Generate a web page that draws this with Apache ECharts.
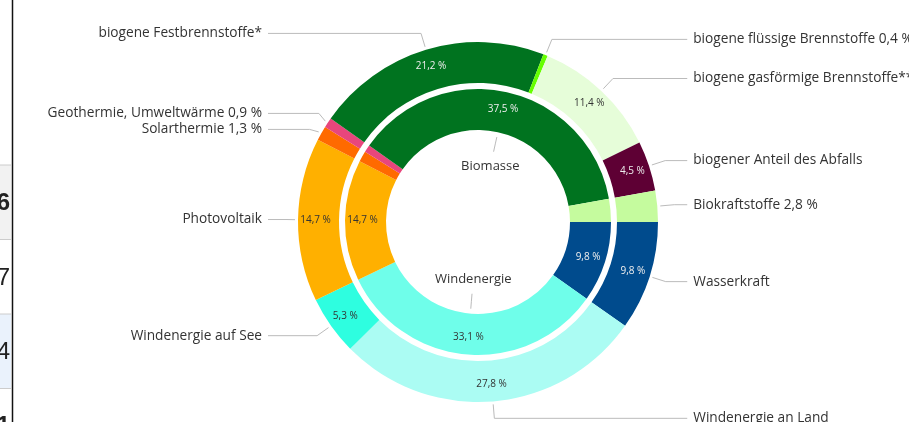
<!DOCTYPE html>
<html>
<head>
<meta charset="utf-8">
<script src="https://cdn.jsdelivr.net/npm/echarts@6/dist/echarts.min.js"></script>
<style>
  html, body { margin: 0; padding: 0; background: #fff; }
  #chart { width: 909px; height: 422px; }
</style>
</head>
<body>
<div id="chart"></div>
<script>
// aussen: einzelne Energieträger, Anteil in %
var outerNames = ['Wasserkraft', 'Windenergie an Land', 'Windenergie auf See', 'Photovoltaik', 'Solarthermie',
    'Geothermie, Umweltwärme', 'biogene Festbrennstoffe*', 'biogene flüssige Brennstoffe',
    'biogene gasförmige Brennstoffe**', 'biogener Anteil des Abfalls', 'Biokraftstoffe'];
var outerValues = [9.8, 27.8, 5.3, 14.7, 1.3, 0.9, 21.2, 0.4, 11.4, 4.5, 2.8];
var outerColors = ['#004b8d', '#abfcf3', '#2efee0', '#ffb000', '#ff6a00', '#e8467c',
    '#00731f', '#66ff00', '#e6fdd9', '#5e0034', '#c5fb9e'];

// innen: zusammengefasst
var innerNames = ['Wasserkraft', 'Windenergie', 'Photovoltaik', 'Solarthermie', 'Geothermie', 'Biomasse', 'Biokraftstoffe'];
var innerValues = [9.8, 33.1, 14.7, 1.3, 0.9, 37.5, 2.8];
var innerColors = ['#004b8d', '#6ffeea', '#ffb000', '#ff6a00', '#e8467c', '#00731f', '#c5fb9e'];
var centerLabels = ['Biomasse', 'Windenergie'];

var smallShare = 3; // kleine Anteile: Prozent steht aussen am Namen
var font = '"Open Sans", sans-serif';
var center = [478, 222];
// Bereich der Kreise geht über den Rand hinaus, damit Beschriftungen abgeschnitten statt verschoben werden
var pieBox = { left: 0, top: 0, right: -160, bottom: -40 };
var lineStart = 183, lineLen = 14, lineLen2 = 13, textGap = 6;

function fmt(v) {
    return v.toFixed(1).replace('.', ',') + ' %';
}

function isDark(hex) {
    var r = parseInt(hex.substr(1, 2), 16), g = parseInt(hex.substr(3, 2), 16), b = parseInt(hex.substr(5, 2), 16);
    return 0.299 * r + 0.587 * g + 0.114 * b < 110;
}

function midAngle(values, idx) {
    var total = 0, before = 0;
    for (var i = 0; i < values.length; i++) {
        total += values[i];
        if (i < idx) before += values[i];
    }
    return (before + values[idx] / 2) / total * Math.PI * 2;
}

function polar(r, a) {
    return [center[0] + r * Math.cos(a), center[1] + r * Math.sin(a)];
}

// Enden der Führungslinien links und rechts auf eine Linie bringen
var leftEnd = Infinity, rightEnd = -Infinity;
outerValues.forEach(function (v, i) {
    var c = Math.cos(midAngle(outerValues, i));
    var x = center[0] + (lineStart + lineLen) * c + (c < 0 ? -lineLen2 : lineLen2);
    if (c < 0) leftEnd = Math.min(leftEnd, x);
    else rightEnd = Math.max(rightEnd, x);
});

function ringData(names, values, colors) {
    return names.map(function (n, i) {
        return {
            name: n,
            value: values[i],
            itemStyle: { color: colors[i] },
            label: {
                show: values[i] >= smallShare,
                color: isDark(colors[i]) ? '#eeeeee' : '#333333'
            }
        };
    });
}

function pieSeries(extra) {
    var s = {
        type: 'pie',
        left: pieBox.left, top: pieBox.top, right: pieBox.right, bottom: pieBox.bottom,
        center: center,
        startAngle: 0,
        clockwise: true,
        silent: true
    };
    for (var k in extra) s[k] = extra[k];
    return s;
}

var chart = echarts.init(document.getElementById('chart'));

var ringLabel = {
    position: 'inside',
    fontFamily: font,
    fontSize: 10,
    formatter: function (p) { return fmt(p.value); }
};

var option = {
    backgroundColor: '#ffffff',
    animation: false,
    graphic: [
        { type: 'rect', shape: { x: 0, y: 165, width: 11, height: 74 }, style: { fill: '#f2f2f2' } },
        { type: 'rect', shape: { x: 0, y: 314, width: 11, height: 74 }, style: { fill: '#eaf2fc' } },
        { type: 'line', shape: { x1: 0, y1: 165, x2: 11, y2: 165 }, style: { stroke: '#cccccc', lineWidth: 1 } },
        { type: 'line', shape: { x1: 0, y1: 239.5, x2: 11, y2: 239.5 }, style: { stroke: '#cccccc', lineWidth: 1 } },
        { type: 'line', shape: { x1: 0, y1: 314, x2: 11, y2: 314 }, style: { stroke: '#cccccc', lineWidth: 1 } },
        { type: 'line', shape: { x1: 0, y1: 388.5, x2: 11, y2: 388.5 }, style: { stroke: '#cccccc', lineWidth: 1 } },
        { type: 'line', shape: { x1: 12.5, y1: 0, x2: 12.5, y2: 422 }, style: { stroke: '#111111', lineWidth: 1.5 } },
        { type: 'text', x: 10, y: 203, style: { text: '6', align: 'right', verticalAlign: 'middle', fontFamily: 'Liberation Sans', fontSize: 24, fontWeight: 'bold', fill: '#222' } },
        { type: 'text', x: 10, y: 278, style: { text: '7', align: 'right', verticalAlign: 'middle', fontFamily: 'Liberation Sans', fontSize: 24, fill: '#222' } },
        { type: 'text', x: 10, y: 352, style: { text: '4', align: 'right', verticalAlign: 'middle', fontFamily: 'Liberation Sans', fontSize: 24, fill: '#222' } },
        { type: 'text', x: 10, y: 426, style: { text: '1', align: 'right', verticalAlign: 'middle', fontFamily: 'Liberation Sans', fontSize: 24, fontWeight: 'bold', fill: '#222' } }
    ],
    series: [
        pieSeries({
            name: 'innen',
            radius: [92, 133],
            label: ringLabel,
            labelLine: { show: false },
            data: ringData(innerNames, innerValues, innerColors)
        }),
        pieSeries({
            name: 'aussen',
            radius: [139, 180],
            label: ringLabel,
            labelLine: { show: false },
            data: ringData(outerNames, outerValues, outerColors)
        }),
        pieSeries({
            // nur Beschriftung aussen
            name: 'aussenLabels',
            radius: [139, lineStart],
            itemStyle: { color: 'rgba(0,0,0,0)' },
            label: {
                position: 'outside',
                edgeDistance: 0,
                distanceToLabelLine: textGap,
                fontFamily: font,
                fontSize: 13.7,
                color: '#333333',
                formatter: function (p) {
                    return p.value < smallShare ? p.name + ' ' + fmt(p.value) : p.name;
                }
            },
            labelLine: {
                show: true,
                length: lineLen,
                length2: lineLen2,
                lineStyle: { color: '#bbbbbb', width: 1 }
            },
            labelLayout: function (p) {
                var pts = p.labelLinePoints;
                if (!pts) return {};
                var left = Math.cos(midAngle(outerValues, p.dataIndex)) < 0;
                var endX = left ? leftEnd : rightEnd;
                return {
                    x: endX + (left ? -textGap : textGap),
                    align: left ? 'right' : 'left',
                    labelLinePoints: [pts[0], pts[1], [endX, pts[2][1]]]
                };
            },
            data: outerNames.map(function (n, i) { return { name: n, value: outerValues[i] }; })
        }),
        pieSeries({
            // Beschriftung in der Mitte
            name: 'mitteLabels',
            radius: [0, 86],
            itemStyle: { color: 'rgba(0,0,0,0)' },
            label: {
                position: 'outside',
                fontFamily: font,
                fontSize: 13,
                color: '#333333'
            },
            labelLine: {
                lineStyle: { color: '#bbbbbb', width: 1 }
            },
            labelLayout: function (p) {
                if (centerLabels.indexOf(innerNames[p.dataIndex]) < 0) return {};
                var a = midAngle(innerValues, p.dataIndex);
                var pos = polar(57, a);
                return {
                    x: pos[0],
                    y: pos[1],
                    align: 'center',
                    verticalAlign: 'middle',
                    labelLinePoints: [polar(87, a), polar(80, a), polar(72, a)]
                };
            },
            data: innerNames.map(function (n, i) {
                var show = centerLabels.indexOf(n) >= 0;
                return { name: n, value: innerValues[i], label: { show: show }, labelLine: { show: show } };
            })
        })
    ]
};

chart.setOption(option);

window.addEventListener('resize', function () {
    chart.resize();
});
</script>
</body>
</html>
